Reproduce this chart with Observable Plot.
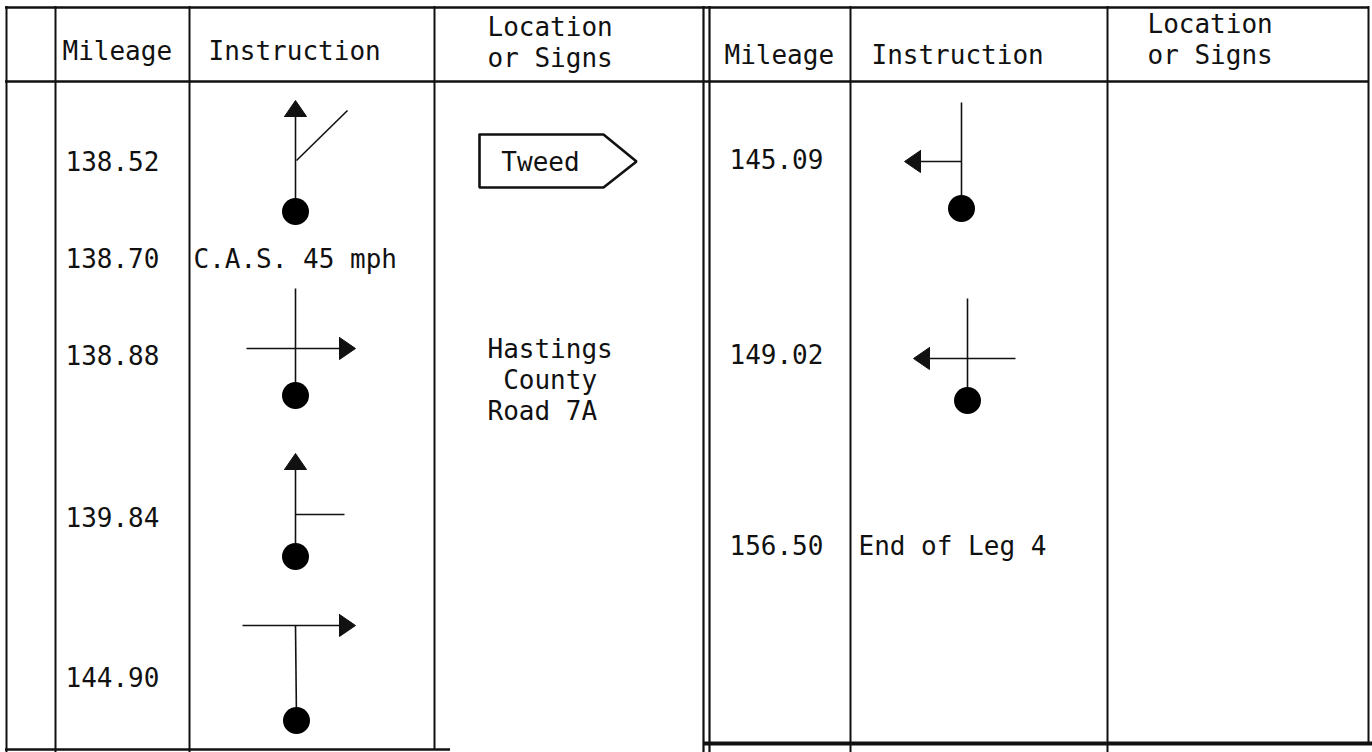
<!DOCTYPE html>
<html>
<head>
<meta charset="utf-8">
<script src="https://cdn.jsdelivr.net/npm/d3@7"></script>
<script src="https://cdn.jsdelivr.net/npm/@observablehq/plot@0.6"></script>
<style>
  html, body { margin: 0; padding: 0; background: #fff; }
  svg text { white-space: pre; }
</style>
</head>
<body>
<script>
// ---------- DATA ----------
const headers = ["Mileage", "Instruction", "Location\nor Signs"];

const mileageLeft = ["138.52", "138.70", "138.88", "139.84", "144.90"];
const instructionLeft = ["straight-bear-right", "C.A.S. 45 mph", "cross-right", "straight-side-right", "T-right"];
const signLeft = ["Tweed", null, null, null, null];
const locationLeft = [null, null, "Hastings\n County\nRoad 7A", null, null];

const mileageRight = ["145.09", "149.02", "156.50"];
const instructionRight = ["T-left-through", "cross-left", "End of Leg 4"];
const signRight = [null, null, null];
const locationRight = [null, null, null];

// ---------- LAYOUT ----------
const W = 1372, H = 752;
const lineStep = 31;
const rowYLeft = [162, 259, 356, 518, 678];
const rowYRight = [160, 355, 546];

const halves = [
  {
    rows: rowYLeft, mileage: mileageLeft, instr: instructionLeft, sign: signLeft, loc: locationLeft,
    mileX: 65, instrTextX: 193, glyphX: 295, signX: 540, locX: 487,
    head: [{x: 62, y: 51}, {x: 208, y: 51}, {x: 487, y: 27}]
  },
  {
    rows: rowYRight, mileage: mileageRight, instr: instructionRight, sign: signRight, loc: locationRight,
    mileX: 729, instrTextX: 858, glyphX: 964, signX: 1210, locX: 1147,
    head: [{x: 724, y: 55}, {x: 871, y: 55}, {x: 1147, y: 24}]
  }
];

// table rules
const vRules = [
  {x: 6, y1: 6, y2: 752, w: 2}, {x: 55, y1: 6, y2: 752, w: 2},
  {x: 189, y1: 6, y2: 752, w: 2}, {x: 434, y1: 6, y2: 749, w: 2},
  {x: 703, y1: 6, y2: 752, w: 2.2}, {x: 709, y1: 6, y2: 752, w: 2.2},
  {x: 850, y1: 6, y2: 752, w: 2}, {x: 1107, y1: 6, y2: 752, w: 2},
  {x: 1368, y1: 6, y2: 743, w: 2}
];
const hRules = [
  {y: 7, x1: 5, x2: 1369, w: 2.5},
  {y: 81, x1: 5, x2: 1369, w: 2.5},
  {y: 749, x1: 5, x2: 450, w: 2.5},
  {y: 743, x1: 703, x2: 1372, w: 4}
];

// turn-symbol glyph shapes (relative to glyph anchor)
const glyphs = {
  "straight-bear-right": {segs: [[0, 49, 0, -48], [1, -2, 52, -52]], heads: [[0, -62, "up"]], dot: [0, 49]},
  "cross-right":         {segs: [[0, -68, 0, 39], [-49, -8, 44, -8]], heads: [[60, -8, "right"]], dot: [0, 39]},
  "straight-side-right": {segs: [[0, 38, 0, -50], [0, -4, 49, -4]], heads: [[0, -65, "up"]], dot: [0, 38]},
  "T-right":             {segs: [[-53, -53, 45, -53], [0, -53, 1, 42]], heads: [[60, -53, "right"]], dot: [1, 42]},
  "T-left-through":      {segs: [[-3, -58, -3, 48], [-3, 1, -44, 1]], heads: [[-60, 1, "left"]], dot: [-3, 48]},
  "cross-left":          {segs: [[3, -57, 3, 45], [51, 3, -37, 3]], heads: [[-51, 3, "left"]], dot: [3, 45]}
};
const headLen = 16, headHalf = 11;
const signShape = [[-61, -28], [63, -28], [96, -1], [63, 25], [-61, 25], [-61, -28]];

// ---------- BUILD MARK TABLES ----------
const textsStart = [];
const textsMiddle = [];
const segs = [];
const heads = [];
const dots = [];
const signs = [];
let hid = 0;

function pushLines(arr, x, y, t) {
  t.split("\n").forEach((line, k) => arr.push({x, y: y + k * lineStep, t: line}));
}

for (const h of halves) {
  headers.forEach((t, i) => pushLines(textsStart, h.head[i].x, h.head[i].y, t));
  h.rows.forEach((y, i) => {
    pushLines(textsStart, h.mileX, y, h.mileage[i]);
    const ins = h.instr[i];
    const g = glyphs[ins];
    if (g) {
      const cx = h.glyphX;
      g.segs.forEach(([a, b, c, d]) => segs.push({x1: cx + a, y1: y + b, x2: cx + c, y2: y + d}));
      g.heads.forEach(([tx, ty, dir]) => {
        const X = cx + tx, Y = y + ty;
        let pts;
        if (dir === "up") pts = [[X - headHalf, Y + headLen], [X, Y], [X + headHalf, Y + headLen]];
        else if (dir === "right") pts = [[X - headLen, Y - headHalf], [X, Y], [X - headLen, Y + headHalf]];
        else pts = [[X + headLen, Y - headHalf], [X, Y], [X + headLen, Y + headHalf]];
        pts.push(pts[0]);
        pts.forEach(([px, py]) => heads.push({x: px, y: py, id: hid}));
        hid++;
      });
      dots.push({x: cx + g.dot[0], y: y + g.dot[1]});
    } else if (ins) {
      pushLines(textsStart, h.instrTextX, y, ins);
    }
    if (h.sign[i]) {
      signShape.forEach(([dx, dy]) => signs.push({x: h.signX + dx, y: y + dy, id: i}));
      pushLines(textsMiddle, h.signX, y, h.sign[i]);
    }
    if (h.loc[i]) {
      pushLines(textsStart, h.locX, y - 7, h.loc[i]);
    }
  });
}

// ---------- PLOT ----------
const textStyle = {fontFamily: "DejaVu Sans Mono", fontSize: 26, fill: "#111"};
const chart = Plot.plot({
  width: W,
  height: H,
  margin: 0,
  x: {domain: [0, W], range: [0, W], axis: null},
  y: {domain: [0, H], range: [0, H], axis: null},
  style: {background: "#fff", color: "#111"},
  marks: [
    Plot.ruleX(vRules, {x: "x", y1: "y1", y2: "y2", stroke: "#111", strokeWidth: d => d.w}),
    Plot.ruleY(hRules, {y: "y", x1: "x1", x2: "x2", stroke: "#111", strokeWidth: d => d.w}),
    Plot.link(segs, {x1: "x1", y1: "y1", x2: "x2", y2: "y2", stroke: "#111", strokeWidth: 1.6}),
    Plot.line(heads, {x: "x", y: "y", z: "id", fill: "#111", stroke: "#111", strokeWidth: 1, curve: "linear"}),
    Plot.dot(dots, {x: "x", y: "y", r: 13.5, fill: "#000", stroke: "none"}),
    Plot.line(signs, {x: "x", y: "y", z: "id", stroke: "#111", strokeWidth: 2.6, strokeLinejoin: "miter", curve: "linear"}),
    Plot.text(textsStart, {x: "x", y: "y", text: "t", textAnchor: "start", ...textStyle}),
    Plot.text(textsMiddle, {x: "x", y: "y", text: "t", textAnchor: "middle", ...textStyle})
  ]
});
document.body.append(chart);
</script>
</body>
</html>
